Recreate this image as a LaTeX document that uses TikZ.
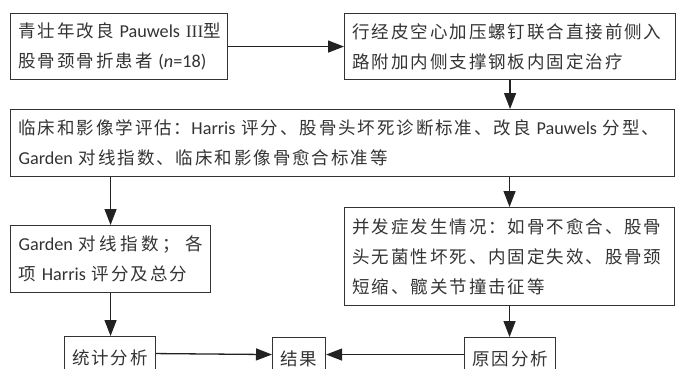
\documentclass[tikz,border=0pt]{standalone}
\usepackage{fontspec}
\setmainfont{Noto Sans CJK SC}[LetterSpace=11]
\newfontfamily\lat{Carlito}[Scale=1.04]
\newfontfamily\romfont{Liberation Serif}
\usetikzlibrary{arrows.meta}
\definecolor{ink}{HTML}{333333}
\definecolor{arrink}{HTML}{222222}
\begin{document}
\begin{tikzpicture}[x=1pt,y=-1pt,
  every node/.style={font=\fontsize{17.5pt}{30pt}\selectfont, text=ink},
  box/.style={draw=ink, line width=1.1pt, inner xsep=8pt, inner ysep=0pt, align=left, anchor=north west},
  sbox/.style={draw=ink, line width=1.1pt, inner xsep=0pt, inner ysep=0pt, align=center, anchor=north west},
  arr/.style={draw=arrink, line width=1.3pt, -{Triangle[length=16pt,width=12pt]}}]
\useasboundingbox (0,0) rectangle (677,368);
\clip (0,0) rectangle (677,368);
\node[box, text width=201pt, minimum height=66pt] (b1) at (10,13)
  {\mbox{青壮年改良{\lat\ Pauwels }{\romfont III}型}\\\mbox{股骨颈骨折患者{\lat\ (\textit{n}=18)}}};
\node[box, text width=315pt, minimum height=66pt] (b2) at (344,13)
  {\mbox{行经皮空心加压螺钉联合直接前侧入}\\\mbox{路附加内侧支撑钢板内固定治疗}};
\node[box, text width=648pt, minimum height=67pt] (b3) at (10,109)
  {\mbox{临床和影像学评估：{\lat Harris }评分、股骨头坏死诊断标准、改良{\lat\ Pauwels }分型、}\\\mbox{{\lat Garden }对线指数、临床和影像骨愈合标准等}};
\node[box, text width=184pt, minimum height=67pt] (g) at (10,225)
  {\mbox{{\lat Garden }{\addfontfeature{LetterSpace=19}对线指数；}\hspace{6pt}各}\\\mbox{项{\lat\ Harris }评分及总分}};
\node[box, text width=314pt, minimum height=98pt] (rb) at (344,207)
  {\mbox{并发症发生情况：如骨不愈合、股骨}\\\mbox{头无菌性坏死、内固定失效、股骨颈}\\\mbox{短缩、髋关节撞击征等}};
\node[sbox, minimum width=91pt, minimum height=42pt] (tj) at (64,336) {统计分析};
\node[sbox, minimum width=53pt, minimum height=42pt] (jg) at (272,337) {结果};
\node[sbox, minimum width=91pt, minimum height=42pt] (yy) at (464,337) {原因分析};
\draw[arr] (b1.east) -- (b2.west);
\draw[arr] (b2.south) -- (b2.south |- b3.north);
\draw[arr] (b3.south -| g.north) -- (g.north);
\draw[arr] (b3.south -| rb.north) -- (rb.north);
\draw[arr] (g.south) -- (g.south |- tj.north);
\draw[arr] (rb.south) -- (rb.south |- yy.north);
\draw[arr] ([yshift=4pt]tj.east) -- ([yshift=4pt]jg.west);
\draw[arr] ([yshift=4pt]yy.west) -- ([yshift=4pt]jg.east);
\end{tikzpicture}
\end{document}
